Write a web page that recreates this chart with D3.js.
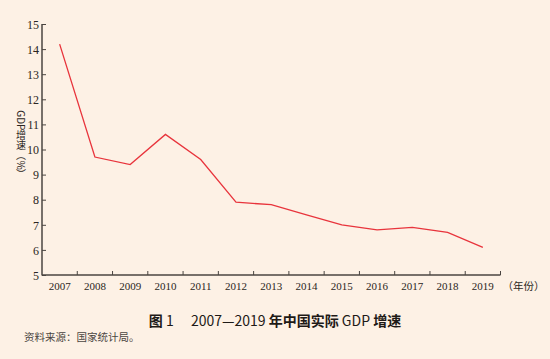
<!DOCTYPE html>
<html>
<head>
<meta charset="utf-8">
<script src="https://cdn.jsdelivr.net/npm/d3@7"></script>
<style>
  html, body { margin: 0; padding: 0; background: #fdf1e5; }
  svg { display: block; }
</style>
</head>
<body>
<div id="chart"></div>
<script>
// data
var years = ["2007", "2008", "2009", "2010", "2011", "2012", "2013",
             "2014", "2015", "2016", "2017", "2018", "2019"];
var growth = [14.2, 9.7, 9.4, 10.6, 9.6, 7.9, 7.8, 7.4, 7.0, 6.8, 6.9, 6.7, 6.1];
var yTicks = [5, 6, 7, 8, 9, 10, 11, 12, 13, 14, 15];

var width = 550, height = 359;
var serif = "'Liberation Serif', 'DejaVu Serif', serif";
var cjk = "'Noto Sans CJK SC', 'Noto Sans', sans-serif";
var axisColor = "#4a4541";
var textColor = "#2b2622";

var svg = d3.select("#chart").append("svg")
    .attr("width", width)
    .attr("height", height);

svg.append("rect")
    .attr("width", width)
    .attr("height", height)
    .attr("fill", "#fdf1e5");

var x = d3.scaleBand()
    .domain(years)
    .range([42, 500.5]);

var y = d3.scaleLinear()
    .domain([5, 15])
    .range([275, 24]);

// y axis, ticks pointing inward
var yAxis = svg.append("g")
    .attr("transform", "translate(42,0)")
    .call(d3.axisRight(y).tickValues(yTicks).tickSize(4).tickFormat(d3.format("d")));
yAxis.select(".domain").remove();
yAxis.selectAll(".tick line").attr("stroke", axisColor);
yAxis.selectAll(".tick text")
    .attr("x", -3)
    .attr("text-anchor", "end")
    .attr("dy", "0.35em")
    .attr("fill", textColor)
    .style("font-family", serif)
    .style("font-size", "12px");

svg.append("line")
    .attr("x1", 42).attr("x2", 42)
    .attr("y1", y(15)).attr("y2", y(5) + 0.5)
    .attr("stroke", axisColor)
    .attr("stroke-width", 1.5);

// x axis, ticks on band boundaries pointing up
var xAxis = svg.append("g")
    .attr("transform", "translate(0,275)");
xAxis.append("line")
    .attr("x1", 42).attr("x2", x.range()[1])
    .attr("stroke", axisColor)
    .attr("stroke-width", 1.5);
xAxis.selectAll(".xtick")
    .data(years)
    .enter().append("line")
    .attr("class", "xtick")
    .attr("x1", function (d) { return x(d) + x.bandwidth(); })
    .attr("x2", function (d) { return x(d) + x.bandwidth(); })
    .attr("y1", 0).attr("y2", -4)
    .attr("stroke", axisColor);
xAxis.selectAll(".xlabel")
    .data(years)
    .enter().append("text")
    .attr("class", "xlabel")
    .attr("x", function (d) { return x(d) + x.bandwidth() / 2; })
    .attr("y", 15)
    .attr("text-anchor", "middle")
    .attr("fill", textColor)
    .style("font-family", serif)
    .style("font-size", "11px")
    .text(function (d) { return d; });

svg.append("text")
    .attr("x", x.range()[1] + 2)
    .attr("y", 290)
    .attr("fill", textColor)
    .style("font-family", cjk)
    .style("font-size", "10.5px")
    .text("（年份）");

// y axis title, vertical text (latin sideways, CJK upright)
svg.append("text")
    .attr("x", 21)
    .attr("y", 145)
    .attr("text-anchor", "middle")
    .attr("fill", textColor)
    .style("writing-mode", "vertical-rl")
    .style("text-orientation", "mixed")
    .style("font-family", cjk)
    .style("font-size", "10px")
    .text("GDP增速（%）");

// line
var line = d3.line()
    .x(function (d, i) { return x(years[i]) + x.bandwidth() / 2; })
    .y(function (d) { return y(d); });

svg.append("path")
    .datum(growth)
    .attr("d", line)
    .attr("fill", "none")
    .attr("stroke", "#e8343c")
    .attr("stroke-width", 1.3);

// caption
var cap = svg.append("text")
    .attr("x", 275)
    .attr("y", 326)
    .attr("text-anchor", "middle")
    .attr("fill", "#1e1a17")
    .style("font-family", cjk)
    .style("font-size", "14px");
cap.append("tspan").style("font-weight", 700).text("图");
cap.append("tspan").text(" 1　 2007—2019 ");
cap.append("tspan").style("font-weight", 700).text("年中国实际");
cap.append("tspan").text(" GDP ");
cap.append("tspan").style("font-weight", 700).text("增速");

svg.append("text")
    .attr("x", 24)
    .attr("y", 341)
    .attr("fill", "#4a4541")
    .style("font-family", cjk)
    .style("font-size", "10.5px")
    .text("资料来源：国家统计局。");
</script>
</body>
</html>
